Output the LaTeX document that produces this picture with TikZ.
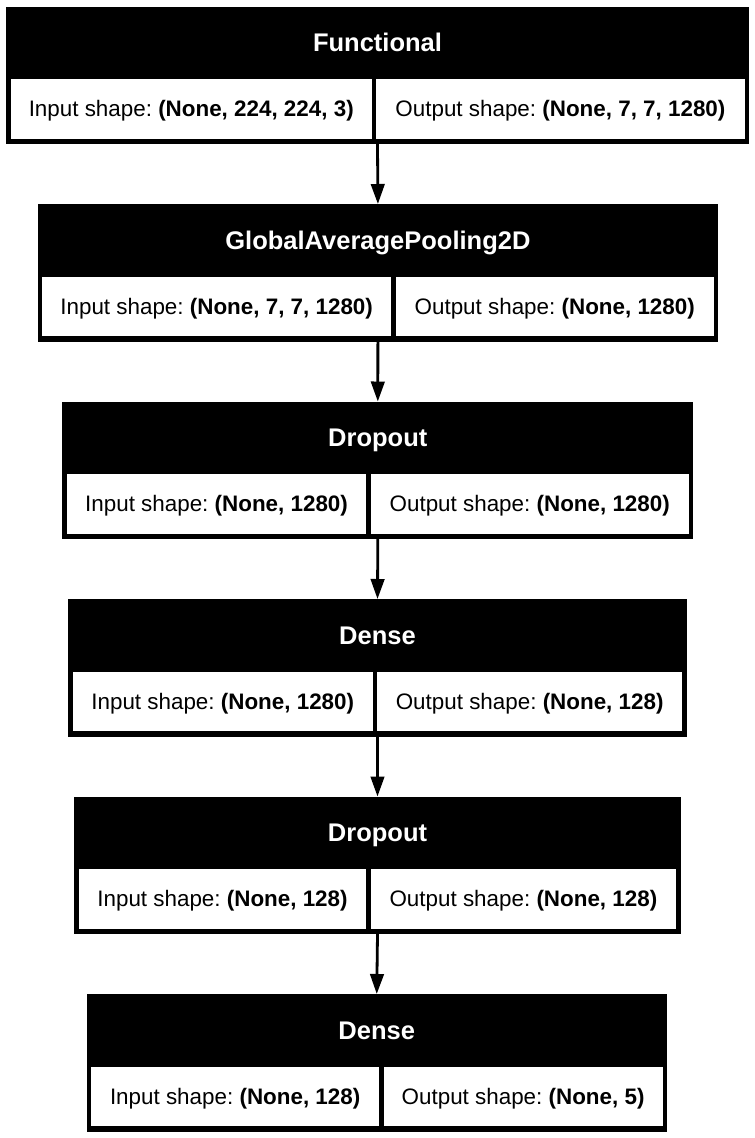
\documentclass[tikz,border=0pt]{standalone}
\usepackage{fontspec}
\setmainfont{Liberation Sans}
\usetikzlibrary{arrows.meta}
\frenchspacing
\tikzset{
  blk/.style={fill=black, draw=none, inner sep=0pt, outer sep=0pt},
  cellbox/.style={fill=white, draw=none, inner sep=0pt, outer sep=0pt,
    font=\fontsize{22.4}{26}\selectfont\frenchspacing, text height=16pt, text depth=0pt},
  ttl/.style={inner sep=0pt, text=white, font=\fontsize{25.5}{30}\selectfont\bfseries,
    text height=18.2pt, text depth=0pt},
  arr/.style={line width=2.8pt, -{Triangle[length=20pt, width=13.5pt]}},
}
% #1 name, #2 left, #3 right, #4 top, #5 divider left, #6 title, #7 input, #8 output
\newcommand{\lyrblock}[8]{%
  \node[blk, minimum width={#3-#2}, minimum height=137.5, anchor=north west] (#1) at (#2,#4) {};
  \node[ttl] (#1t) at ({(#2+#3)/2}, #4+36.25) {#6};
  \node[cellbox, minimum width={#5-#2-4.5}, minimum height=59.5, anchor=north west] (#1i) at (#2+4.5, #4+72.5) {Input shape: \textbf{#7}};
  \node[cellbox, minimum width={#3-#5-4.4-4.5}, minimum height=59.5, anchor=north west] (#1o) at (#5+4.4, #4+72.5) {Output shape: \textbf{#8}};
}
\begin{document}
\begin{tikzpicture}[x=1pt, y=-1pt]
\useasboundingbox[fill=white] (0,0) rectangle (755,1138);
\lyrblock{b1}{6}{749}{6.5}{372}{Functional}{(None, 224, 224, 3)}{(None, 7, 7, 1280)}
\lyrblock{b2}{37.5}{718.3}{204}{391.3}{GlobalAveragePooling2D}{(None, 7, 7, 1280)}{(None, 1280)}
\lyrblock{b3}{62.3}{693.3}{401.5}{366.3}{Dropout}{(None, 1280)}{(None, 1280)}
\lyrblock{b4}{68.3}{686.7}{599}{372.7}{Dense}{(None, 1280)}{(None, 128)}
\lyrblock{b5}{74.3}{680.7}{796.5}{366.2}{Dropout}{(None, 128)}{(None, 128)}
\lyrblock{b6}{86.5}{667}{994}{379.3}{Dense}{(None, 128)}{(None, 5)}
\draw[arr] (b1.south) -- (b2.north);
\draw[arr] (b2.south) -- (b3.north);
\draw[arr] (b3.south) -- (b4.north);
\draw[arr] (b4.south) -- (b5.north);
\draw[arr] (b5.south) -- (b6.north);
\end{tikzpicture}
\end{document}
